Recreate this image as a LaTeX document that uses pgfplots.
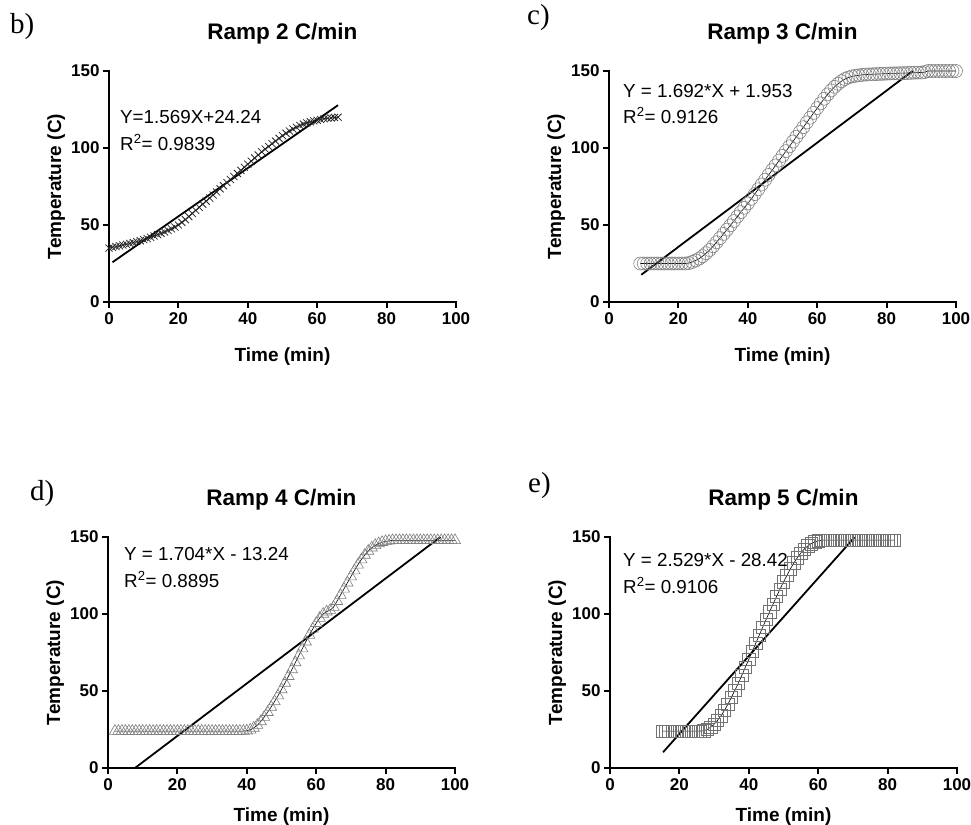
\documentclass[border=0pt]{standalone}
\usepackage{fontspec}
\setmainfont{Liberation Sans}
\newfontfamily\tnr{Liberation Serif}
\usepackage{pgfplots}
\pgfplotsset{compat=1.18}

\pgfplotstableread{
x y
0 35
1 35.5
2 36
3 36.5
4 37
5 37.5
6 38
7 38.6
8 39.2
9 39.8
10 40.5
11 41.2
12 42
13 42.9
14 43.8
15 44.6
16 45.5
17 46.5
18 47.5
19 48.7
20 50
21 51.7
22 53.5
23 55.5
24 57.5
25 59.5
26 61.5
27 63.5
28 65.5
29 67.5
30 69.5
31 71.5
32 73.5
33 75.5
34 77.5
35 79.5
36 81.5
37 83.5
38 85.5
39 87.5
40 89.5
41 91.5
42 93.5
43 95.5
44 97.5
45 99.3
46 101
47 102.8
48 104.5
49 106.3
50 108
51 109.6
52 111
53 112.3
54 113.5
55 114.6
56 115.5
57 116.3
58 117
59 117.6
60 118
61 118.5
62 119
63 119.3
64 119.5
65 119.8
66 120
}\dataB

\pgfplotstableread{
x y
9 25
10 25
11 25
12 25
13 25
14 25
15 25
16 25
17 25
18 25
19 25
20 25
21 25
22 25
23 25.3
24 26
25 27
26 28.2
27 29.8
28 31.7
29 33.8
30 36.2
31 38.8
32 41.5
33 44.2
34 47
35 49.8
36 52.6
37 55.5
38 58.4
39 61.2
40 64
41 67
42 70.1
43 73.2
44 76.3
45 79.4
46 82.5
47 85.6
48 88.7
49 91.8
50 94.9
51 98
52 101.1
53 104.2
54 107.3
55 110.4
56 113.5
57 116.6
58 119.7
59 122.8
60 125.9
61 129
62 132
63 134.8
64 137.4
65 139.7
66 141.7
67 143.4
68 144.8
69 145.8
70 146.5
71 146.9
72 147.2
73 147.5
74 147.7
75 147.8
76 147.9
77 148
78 148.1
79 148.2
80 148.3
81 148.4
82 148.5
83 148.5
84 148.6
85 148.6
86 148.7
87 148.8
88 148.9
89 149
90 149
91 149.3
92 150
93 150
94 150
95 150
96 150
97 150
98 150
99 150
100 150
}\dataC

\pgfplotstableread{
x y
2 24
3 24
4 24
5 24
6 24
7 24
8 24
9 24
10 24
11 24
12 24
13 24
14 24
15 24
16 24
17 24
18 24
19 24
20 24
21 24
22 24
23 24
24 24
25 24
26 24
27 24
28 24
29 24
30 24
31 24
32 24
33 24
34 24
35 24
36 24
37 24
38 24
39 24
40 24.2
41 24.8
42 26
43 27.8
44 30.2
45 33
46 36.2
47 39.6
48 43.2
49 47
50 51
51 55.2
52 59.6
53 64
54 68.5
55 73
56 77.5
57 82
58 86.3
59 90.3
60 94
61 97.3
62 100
63 101.5
64 102.5
65 104.5
66 108.3
67 112.3
68 116.3
69 120.3
70 124.3
71 128.2
72 131.9
73 135.3
74 138.3
75 140.9
76 143
77 144.6
78 145.8
79 146.6
80 147.2
81 147.5
82 147.8
83 147.8
84 147.8
85 147.8
86 147.8
87 147.8
88 147.8
89 147.8
90 147.8
91 147.8
92 147.8
93 147.8
94 147.8
95 147.8
96 147.8
97 147.8
98 147.8
99 147.8
100 147.8
}\dataD

\pgfplotstableread{
x y
15 24
16 24
17 24
18 24
19 24
20 24
21 24
22 24
23 24
24 24
25 24
26 24
27 24.2
28 25
29 26.5
30 28.5
31 31
32 34
33 37.5
34 41.5
35 46
36 50.5
37 55.2
38 60.2
39 65.4
40 70.6
41 75.8
42 81
43 86.2
44 91.4
45 96.5
46 101.5
47 106.5
48 111.4
49 116.2
50 120.8
51 125.2
52 129.4
53 133.2
54 136.6
55 139.6
56 142.2
57 144.2
58 145.7
59 146.8
60 147.5
61 147.9
62 148
63 148
64 148
65 148
66 148
67 148
68 148
69 148
70 148
71 148
72 148
73 148
74 148
75 148
76 148
77 148
78 148
79 148
80 148
81 148
82 148
}\dataE

\pgfplotsset{
  prism/.style={
    scale only axis, width=347bp, height=231bp,
    xmin=0, xmax=100, ymin=0, ymax=150,
    axis lines=left,
    axis line style={-, line width=2.3bp, line cap=rect},
    xtick={0,20,40,60,80,100}, ytick={0,50,100,150},
    tick align=outside, major tick length=6bp,
    every tick/.style={black, line width=2.1bp},
    minor tick num=0,
    /pgf/number format/assume math mode=true,
    tick label style={font=\fontsize{17bp}{19bp}\selectfont\bfseries},
    xticklabel style={yshift=-1.5bp},
    label style={font=\fontsize{19bp}{21bp}\selectfont\bfseries},
    every axis title shift=0pt,
    title style={font=\fontsize{22.5bp}{24bp}\selectfont\bfseries,
                 at={(axis description cs:0.5,1.1385)}, anchor=base},
    ylabel style={at={(axis description cs:-0.1383,0.5)}, anchor=base, rotate=0},
    xlabel={Time (min)}, ylabel={Temperature (C)},
    clip=false,
  },
  fit/.style={black, line width=1.8bp, no marks},
  datal/.style={black, line width=0.6bp},
}

\begin{document}
\begin{tikzpicture}
\path[use as bounding box] (0,0) rectangle (971bp,-825bp);

% b)
\begin{axis}[prism, at={(109bp,-302bp)}, anchor=south west,
  title={Ramp 2 C/min},
  xlabel style={at={(axis description cs:0.5,-0.2597)}, anchor=base}]
\addplot[datal, mark=x, mark size=5bp, mark options={draw=black!85, line width=0.8bp}] table {\dataB};
\addplot[fit] coordinates {(1,25.81) (66,127.79)};
\end{axis}

% c)
\begin{axis}[prism, at={(609bp,-302bp)}, anchor=south west,
  title={Ramp 3 C/min},
  xlabel style={at={(axis description cs:0.5,-0.2554)}, anchor=base}]
\addplot[datal, mark=o, mark size=6.5bp, mark options={draw=black!50, line width=0.6bp}] table {\dataC};
\addplot[fit] coordinates {(9.3,17.69) (87.5,150.0)};
\end{axis}

% d)
\begin{axis}[prism, at={(108bp,-768bp)}, anchor=south west,
  title={Ramp 4 C/min},
  xlabel style={at={(axis description cs:0.5,-0.2294)}, anchor=base}]
\addplot[datal, mark=triangle, mark size=6.5bp, mark options={draw=black!50, line width=0.6bp}] table {\dataD};
\addplot[fit] coordinates {(7.77,0) (95.8,150.0)};
\end{axis}

% e)
\begin{axis}[prism, at={(610bp,-768bp)}, anchor=south west,
  title={Ramp 5 C/min},
  xlabel style={at={(axis description cs:0.5,-0.2294)}, anchor=base}]
\addplot[datal, mark=square, mark size=6.2bp, mark options={draw=black!55, line width=0.6bp}] table {\dataE};
\addplot[fit] coordinates {(15.3,10.27) (70.5,149.87)};
\end{axis}

% panel letters
\begin{scope}[every node/.style={anchor=base west, inner sep=0, font=\tnr\fontsize{29bp}{31bp}\selectfont}]
\node at (10bp,-33bp) {b)};
\node at (527bp,-24bp) {c)};
\node at (30bp,-500bp) {d)};
\node at (528bp,-492bp) {e)};
\end{scope}

% equations
\begin{scope}[every node/.style={anchor=base west, inner sep=0, font=\fontsize{18.8bp}{20bp}\selectfont}]
\node at (120bp,-123bp) {Y=1.569X+24.24};
\node at (120bp,-150bp) {R\textsuperscript{2}= 0.9839};
\node at (623bp,-97bp) {Y = 1.692*X + 1.953};
\node at (623bp,-123bp) {R\textsuperscript{2}= 0.9126};
\node at (124bp,-560bp) {Y = 1.704*X - 13.24};
\node at (124bp,-587bp) {R\textsuperscript{2}= 0.8895};
\node at (623bp,-566bp) {Y = 2.529*X - 28.42};
\node at (623bp,-593bp) {R\textsuperscript{2}= 0.9106};
\end{scope}
\end{tikzpicture}
\end{document}
